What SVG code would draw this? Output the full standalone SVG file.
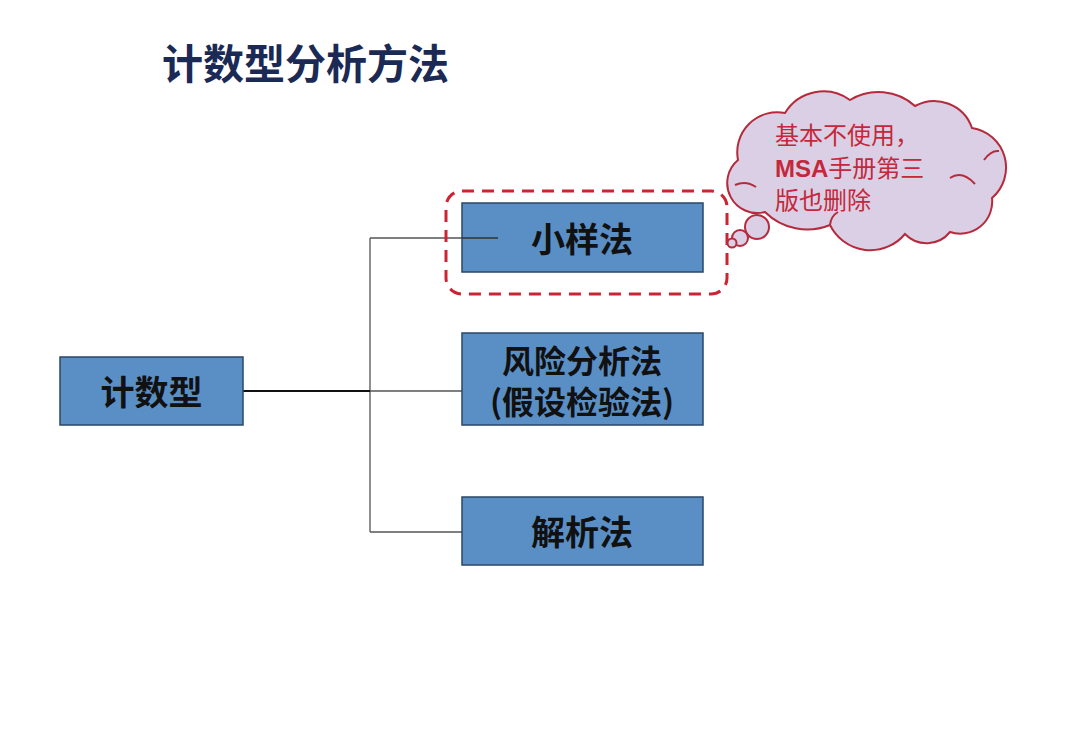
<svg xmlns="http://www.w3.org/2000/svg" width="1080" height="735" viewBox="0 0 1080 735">
<style>
.box{fill:#5a8fc6;stroke:#2a4767;stroke-width:1.5}
.lbl{font-family:"Noto Sans CJK SC","Noto Sans",sans-serif;font-weight:bold;font-size:34px;fill:#111;text-anchor:middle}
.lbl2{font-size:32px}
.conn{fill:none;stroke:#555;stroke-width:1.3}
.cloud{fill:#dacfe4;stroke:#b52a3c;stroke-width:2}
.inner{fill:none;stroke:#b52a3c;stroke-width:2}
.ctext{font-family:"Noto Sans CJK SC","Noto Sans",sans-serif;font-size:24px;fill:#c4283a}
</style>
<rect width="1080" height="735" fill="#fff"/>
<text x="162" y="79" font-family="'Noto Sans CJK SC','Noto Sans',sans-serif" font-weight="bold" font-size="41" fill="#1b2a55">计数型分析方法</text>
<g id="connectors">
<path class="conn" d="M370,238 V532 M370,391 H462 M370,532 H462 M370,238 H498"/>
<path d="M243,391 H370" fill="none" stroke="#111" stroke-width="2.2"/>
</g>
<g id="root">
<rect class="box" x="60" y="357" width="183" height="68"/>
<text class="lbl" x="151.5" y="405">计数型</text>
</g>
<g id="small-sample-group">
<rect x="446" y="191" width="281" height="103" rx="16" fill="none" stroke="#cc2433" stroke-width="3" stroke-dasharray="12,8"/>
</g>
<g id="small-sample">
<rect class="box" x="462" y="203" width="241" height="69"/>
<path d="M462,238 H498" stroke="#333" stroke-width="1.3"/>
<text class="lbl" x="582" y="252">小样法</text>
</g>
<g id="risk">
<rect class="box" x="462" y="333" width="241" height="92"/>
<text class="lbl lbl2" x="582" y="373">风险分析法</text>
<text class="lbl lbl2" x="582" y="414">(假设检验法)</text>
</g>
<g id="analytic">
<rect class="box" x="462" y="497" width="241" height="68"/>
<text class="lbl" x="582" y="545">解析法</text>
</g>
<g id="callout">
<path class="cloud" d="M765,212 A30,30 0 0 1 738,160 A40,40 0 0 1 785,113 A45,45 0 0 1 850,100 A55,55 0 0 1 915,106 A40,40 0 0 1 972,128 A40,40 0 0 1 992,198 A32,32 0 0 1 950,232 A30,30 0 0 1 905,234 A45,45 0 0 1 830,225 A60,60 0 0 1 765,212 Z"/>
<path class="inner" d="M735,185 Q746,180 756,187 M950,178 Q962,170 975,184 M984,160 Q991,150 999,151 M830,225 Q831,216 838,212"/>
<circle class="cloud" cx="757" cy="227" r="12"/>
<circle class="cloud" cx="740" cy="238" r="8"/>
<circle class="cloud" cx="732" cy="243" r="4.5"/>
<text class="ctext" x="775" y="144">基本不使用，</text>
<text class="ctext" x="775" y="177"><tspan font-family="'Liberation Sans',sans-serif" font-weight="bold">MSA</tspan>手册第三</text>
<text class="ctext" x="775" y="209">版也删除</text>
</g>
</svg>
